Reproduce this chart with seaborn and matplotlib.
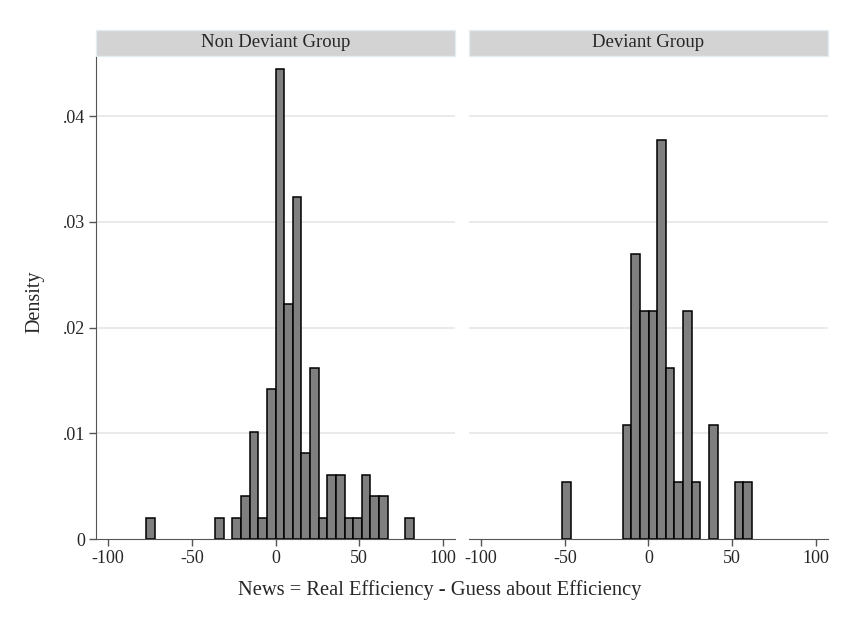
import numpy as np
import pandas as pd
import matplotlib
matplotlib.use('Agg')
import matplotlib.pyplot as plt
import seaborn as sns
from matplotlib.patches import Rectangle

sns.set_style('white')
plt.rcParams['font.family'] = ['Liberation Serif', 'DejaVu Serif']

# common bins (31 bins of ~5.15 starting at -77.2)
bin_start = -77.2
bin_width = 5.15
n_bins = 31
edges = bin_start + bin_width * np.arange(n_bins + 1)
centers = edges[:-1] + bin_width / 2

nondev_counts = [1, 0, 0, 0, 0, 0, 0, 0, 1, 0, 1, 2, 5, 1, 7, 22,
                 11, 16, 4, 8, 1, 3, 3, 1, 1, 3, 2, 2, 0, 0, 1]
dev_counts = [0, 0, 0, 0, 0, 1, 0, 0, 0, 0, 0, 0, 2, 5, 4, 4,
              7, 3, 1, 4, 1, 0, 2, 0, 0, 1, 1, 0, 0, 0, 0]

panels = ['Non Deviant Group', 'Deviant Group']
counts = [nondev_counts, dev_counts]
xticks = [-100, -50, 0, 50, 100]
yticks = [0, 0.01, 0.02, 0.03, 0.04]
ylabels = ['0', '.01', '.02', '.03', '.04']

fig = plt.figure(figsize=(8.6, 6.22), dpi=100)
ax1 = fig.add_axes([96/860, 83/622, 359/860, 482/622])
ax2 = fig.add_axes([469/860, 83/622, 359/860, 482/622])

spine_col = '#555555'
for i, ax in enumerate([ax1, ax2]):
    df = pd.DataFrame({'news': centers, 'n': counts[i]})
    sns.histplot(data=df, x='news', weights='n', bins=list(edges), stat='density',
                 color='#7f7f7f', edgecolor='black', linewidth=1.1, alpha=1,
                 ax=ax, zorder=3)
    # drop empty bins so their outlines don't sit on the axis
    for p in list(ax.patches):
        if p.get_height() == 0:
            p.remove()
    ax.set_xlim(-107.2, 107.2)
    ax.set_ylim(0, 0.0456)
    ax.set_xticks(xticks)
    ax.set_xticklabels([str(t) for t in xticks], fontsize=13)
    ax.set_yticks(yticks)
    for y in yticks[1:]:
        ax.axhline(y, color='#e6e6e6', linewidth=1.2, zorder=1)
    ax.set_xlabel('')
    ax.set_ylabel('')
    for s in ['top', 'right']:
        ax.spines[s].set_visible(False)
    ax.spines['bottom'].set_color(spine_col)
    ax.spines['left'].set_color(spine_col)
    ax.tick_params(axis='x', direction='out', length=5, width=1, color=spine_col,
                   bottom=True, pad=3)
    # strip header
    ax.add_patch(Rectangle((0, 1.003), 1, 26/482, transform=ax.transAxes,
                           facecolor='#d3d3d3', edgecolor='#e4ecf0', linewidth=1,
                           clip_on=False))
    ax.text(0.5, 1.003 + 13/482, panels[i], transform=ax.transAxes,
            ha='center', va='center', fontsize=13.5)

ax1.set_yticklabels(ylabels, fontsize=13)
ax1.tick_params(axis='y', direction='out', length=5, width=1, color=spine_col,
                left=True, pad=3)
ax2.spines['left'].set_visible(False)
ax2.tick_params(axis='y', left=False, labelleft=False)

fig.text(35/860, 1 - 302/622, 'Density', rotation=90, ha='center', va='center',
         fontsize=14.5)
fig.text(440/860, 1 - 590/622, 'News = Real Efficiency - Guess about Efficiency',
         ha='center', va='center', fontsize=14.8)

fig.savefig('out.png', dpi=100)
